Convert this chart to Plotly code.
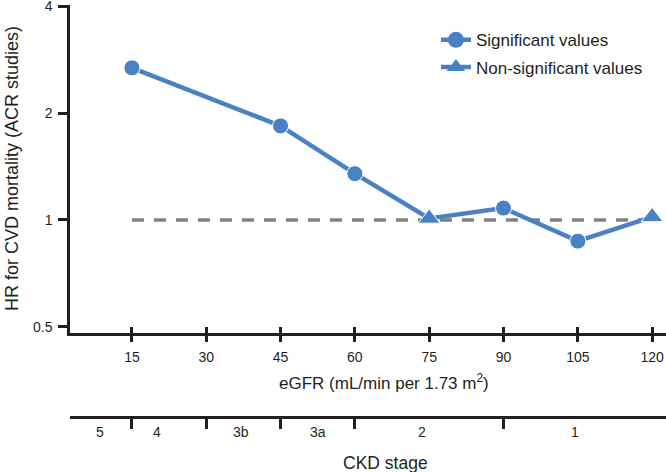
import plotly.graph_objects as go

BLUE = "#4a81c4"
GREY = "#808080"
INK = "#231f20"

# data
egfr = [15, 45, 60, 75, 90, 105, 120]
hr = [2.68, 1.84, 1.35, 1.01, 1.08, 0.872, 1.02]
significant = [True, True, True, False, True, True, False]

egfr_ticks = [15, 30, 45, 60, 75, 90, 105, 120]
hr_ticks = [0.5, 1, 2, 4]
ckd_bounds = [15, 30, 45, 60, 90]
ckd_labels = ["5", "4", "3b", "3a", "2", "1"]
ckd_label_pos = [8.5, 20, 37, 52.5, 73.5, 104.5]

XR = [2.5, 122.8]
YDOM = [0.2039, 1]
FONT = "Liberation Sans, Arial, sans-serif"

fig = go.Figure()

# reference line at HR = 1
fig.add_trace(go.Scatter(
    x=[egfr[0], egfr[-1]], y=[1, 1], mode="lines", showlegend=False,
    line=dict(color=GREY, width=3.5, dash="12px,10px"), hoverinfo="skip",
))

fig.add_trace(go.Scatter(
    x=egfr, y=hr, mode="lines+markers", showlegend=False, cliponaxis=False,
    line=dict(color=BLUE, width=4.5),
    marker=dict(color=BLUE, opacity=1, size=[16 if s else 19 for s in significant],
                symbol=["circle" if s else "triangle-up" for s in significant]),
))

# legend-only entries
fig.add_trace(go.Scatter(
    x=[None], y=[None], mode="lines+markers", name="Significant values", legendgroup="a",
    line=dict(color=BLUE, width=4.5), marker=dict(color=BLUE, size=16, symbol="circle"),
))
fig.add_trace(go.Scatter(
    x=[None], y=[None], mode="lines+markers", name="Non-significant values", legendgroup="b",
    line=dict(color=BLUE, width=4.5), marker=dict(color=BLUE, size=18, symbol="triangle-up"),
))

# invisible traces so the extra axes get drawn
fig.add_trace(go.Scatter(x=[None], y=[None], xaxis="x2", showlegend=False))
fig.add_trace(go.Scatter(x=[None], y=[None], xaxis="x3", showlegend=False))

axis_common = dict(showgrid=False, zeroline=False, color=INK, automargin=False)

fig.update_layout(
    width=666, height=472,
    paper_bgcolor="white", plot_bgcolor="white",
    font=dict(family=FONT, size=14, color=INK),
    margin=dict(l=70, r=0, t=5, b=55),
    showlegend=True,
    legend=dict(x=0.614, y=0.958, xanchor="left", yanchor="top", font=dict(size=17, color=INK),
                tracegroupgap=2, bgcolor="rgba(0,0,0,0)"),
    xaxis=dict(range=XR, domain=[0, 1], anchor="y", tickvals=egfr_ticks,
               ticks="outside", ticklen=6, tickwidth=2.5, tickcolor=INK,
               showline=True, linewidth=2.5, linecolor=INK, ticklabelstandoff=3,
               ticklabeloverflow="allow", tickfont=dict(size=14, color=INK), **axis_common),
    xaxis3=dict(range=XR, overlaying="x", anchor="y", tickvals=egfr_ticks,
                ticks="inside", ticklen=6, tickwidth=2.5, tickcolor=INK,
                showticklabels=False, showline=False, **axis_common),
    xaxis2=dict(range=XR, overlaying="x", anchor="free", position=0, tickvals=ckd_bounds,
                ticks="outside", ticklen=10, tickwidth=2.5, tickcolor=INK,
                showticklabels=False, showline=True, linewidth=2.5, linecolor=INK, **axis_common),
    yaxis=dict(type="log", range=[-0.318, 0.605], domain=YDOM, anchor="x",
               tickvals=hr_ticks, ticktext=["0.5", "1", "2", "4"],
               ticks="outside", ticklen=9, tickwidth=2.5, tickcolor=INK,
               showline=True, linewidth=2.5, linecolor=INK, ticklabelstandoff=3,
               ticklabeloverflow="allow", tickfont=dict(size=14, color=INK), **axis_common),
)

ann = []
for lab, pos in zip(ckd_labels, ckd_label_pos):
    ann.append(dict(x=pos, y=0, yshift=-15, xref="x", yref="paper", yanchor="middle",
                    text=lab, showarrow=False, font=dict(size=14, color=INK)))
ann.append(dict(x=(384 - 70) / 596, y=(417 - 382) / 412, xref="paper", yref="paper",
                xanchor="center", yanchor="middle",
                text="eGFR (mL/min per 1.73 m<sup>2</sup>)", showarrow=False,
                font=dict(size=17, color=INK)))
ann.append(dict(x=(385 - 70) / 596, y=0, yshift=-46, xref="paper", yref="paper",
                xanchor="center", yanchor="middle", text="CKD stage", showarrow=False,
                font=dict(size=17.5, color=INK)))
ann.append(dict(x=(12 - 70) / 596, y=(YDOM[0] + YDOM[1]) / 2, xref="paper", yref="paper",
                xanchor="center", yanchor="middle",
                text="HR for CVD mortality (ACR studies)", textangle=-90, showarrow=False,
                font=dict(size=18, color=INK)))
fig.update_layout(annotations=ann)

fig.write_html("out.html", config={"displayModeBar": False},
               post_script="document.body.style.margin='0';")
